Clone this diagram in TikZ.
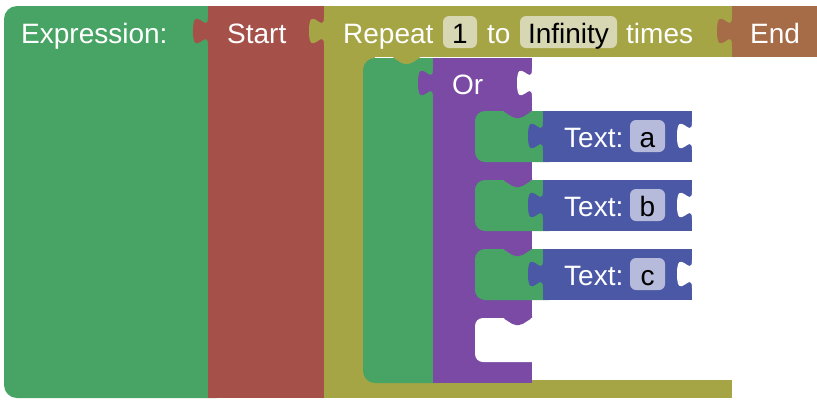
\documentclass[tikz,border=0pt]{standalone}
\usepackage{fontspec}
\setmainfont{Liberation Sans}
\definecolor{cgreen}{HTML}{48A465}
\definecolor{cred}{HTML}{A5514A}
\definecolor{colive}{HTML}{A6A546}
\definecolor{cbrown}{HTML}{A66B47}
\definecolor{cpurple}{HTML}{7A4AA5}
\definecolor{cblue}{HTML}{4A58A6}
\definecolor{ckhaki}{HTML}{D8D7B3}
\definecolor{clav}{HTML}{B6BADB}
\begin{document}
\begin{tikzpicture}[x=1pt,y=-1pt,
  tab/.style={insert path={.. controls +(0,18.75) and +(0,-29) .. ++(-15,14) .. controls +(0,29) and +(0,-18.7) .. ++(15,14)}},
  bump/.style={insert path={-- ++(0,2) -- ++(11,7) -- ++(7,0) -- ++(11,-7) -- ++(0,-2)}},
  lbl/.style={anchor=base west,inner sep=0pt,text=white,font=\fontsize{28}{33}\selectfont},
  val/.style={anchor=base,inner sep=0pt,text=black,font=\fontsize{28}{33}\selectfont}
]
\useasboundingbox (0,0) rectangle (817,400);
% Expression block
\fill[cgreen,rounded corners=13pt] (4,6) rectangle (230,398);
% Start block
\fill[cred] (208,6) rectangle (324,398);
\fill[cred] (208,17) [tab] -- cycle;
% Repeat block (C shape)
\fill[colive] (324,6) rectangle (732,398);
\fill[white] (375,57) rectangle (733,380);
\fill[colive] (324,17) [tab] -- cycle;
% End block
\fill[cbrown] (732,6) rectangle (817,57);
\fill[cbrown] (732,17) [tab] -- cycle;
% inner green block
\fill[cgreen,rounded corners=12pt] (363,58) rectangle (450,383);
\fill[colive,rounded corners=2pt] (392,55) [bump] -- cycle;
% Or block
\fill[cpurple] (433,58) rectangle (532,383);
\fill[cpurple] (433,69) [tab] -- cycle;
\fill[white] (532,69) [tab] -- cycle;
% Text blocks
\foreach \t/\v in {111/a,180/b,249/c}{
  \fill[cgreen,rounded corners=10pt] (475,\t) rectangle (560,\t+51);
  \fill[cpurple,rounded corners=2pt] (503,\t-2) [bump] -- cycle;
  \fill[cblue] (543,\t) rectangle (692,\t+51);
  \fill[cblue] (543,\t+11) [tab] -- cycle;
  \fill[white] (692,\t+11) [tab] -- cycle;
  \node[lbl] (t\v) at (564,\t+36) {Text:};
  \fill[clav,rounded corners=6pt] (630,\t+9) rectangle (665,\t+41);
  \node[val] (v\v) at (647.5,\t+36) {\v};
}
% empty slot
\fill[white,rounded corners=8pt] (475,318) rectangle (545,362);
\fill[cpurple,rounded corners=2pt] (503,316) [bump] -- cycle;
% labels
\node[lbl] (expr) at (21,43) {Expression:};
\node[lbl] (start) at (227,43) {Start};
\node[lbl] (rep) at (343,43) {Repeat};
\fill[ckhaki,rounded corners=6pt] (443,16) rectangle (477,48);
\node[val] (one) at (460,43) {1};
\node[lbl] (to) at (487,43) {to};
\fill[ckhaki,rounded corners=6pt] (520,16) rectangle (617,48);
\node[val] (inf) at (568.5,43) {Infinity};
\node[lbl] (times) at (626,43) {times};
\node[lbl] (end) at (750,43) {End};
\node[lbl] (or) at (452,94) {Or};
\end{tikzpicture}
\end{document}
